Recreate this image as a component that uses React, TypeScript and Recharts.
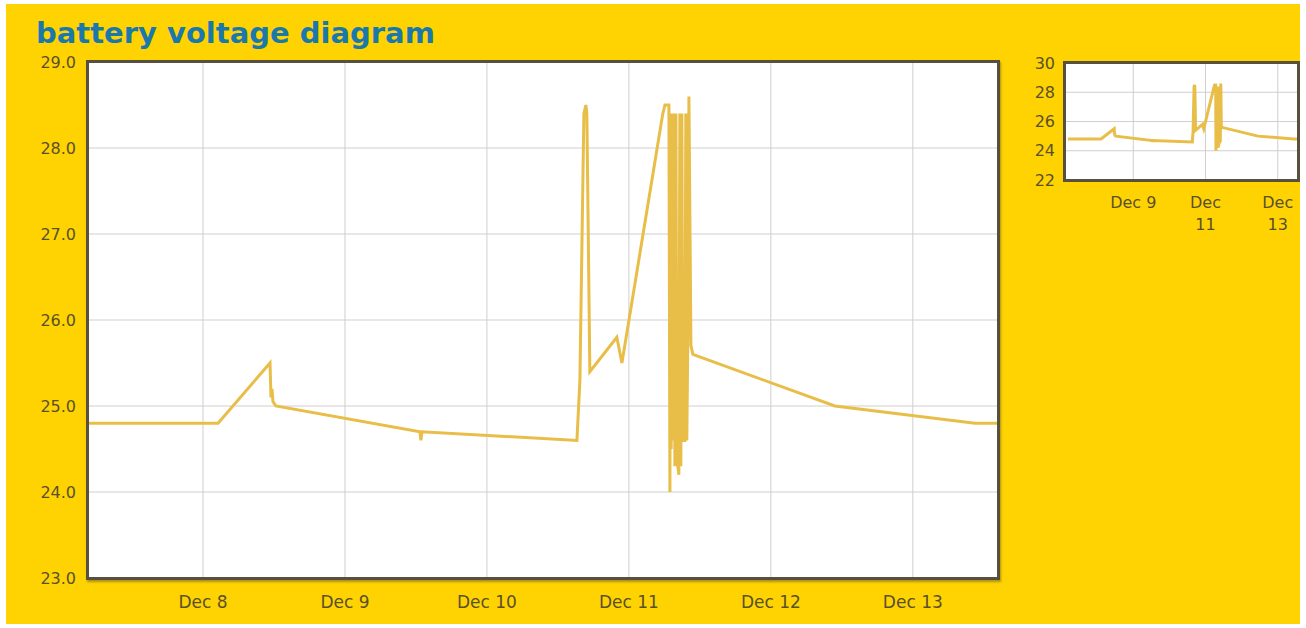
import { LineChart, Line, XAxis, YAxis, CartesianGrid } from 'recharts';

// time in days of December (e.g. 8.5 = Dec 8, 12:00), voltage in V
const times = [
  7.19, 8.106, 8.472, 8.479, 8.486, 8.493, 8.514, 9.528, 9.535, 9.542,
  10.634, 10.655, 10.683, 10.697, 10.704, 10.725, 10.915, 10.951,
  11.239, 11.254, 11.282, 11.289, 11.293, 11.298, 11.303, 11.31, 11.317,
  11.324, 11.331, 11.338, 11.352, 11.359, 11.366, 11.373, 11.38,
  11.394, 11.401, 11.408, 11.415, 11.423, 11.437, 11.451,
  12.451, 13.437, 13.599,
];
const volts = [
  24.8, 24.8, 25.5, 25.1, 25.2, 25.05, 25.0, 24.7, 24.6, 24.7,
  24.6, 25.3, 28.4, 28.5, 28.4, 25.4, 25.8, 25.5,
  28.4, 28.5, 28.5, 24.0, 28.4, 24.5, 28.4, 24.6, 28.4,
  24.3, 28.4, 24.4, 24.2, 28.4, 24.3, 28.4, 24.6,
  24.6, 28.4, 24.6, 25.8, 28.6, 25.7, 25.6,
  25.0, 24.8, 24.8,
];

const mainXTicks = [8, 9, 10, 11, 12, 13];
const mainYTicks = [23, 24, 25, 26, 27, 28, 29];
const miniXTicks = [9, 11, 13];
const miniYTicks = [22, 24, 26, 28, 30];

const data = times.map((t, i) => ({ t, v: volts[i] }));

const BG = '#FFD302';
const LINE = '#E8BE48';
const TEXT = '#5a5028';
const GRID = '#cfcfcf';
const FONT = '"DejaVu Sans", Verdana, sans-serif';

function MiniTick(props: any) {
  const { x, y, payload } = props;
  const day = payload.value;
  const lines = day >= 10 ? ['Dec', String(day)] : [`Dec ${day}`];
  return (
    <text x={x} y={y} textAnchor="middle" fill={TEXT} fontSize={16} fontFamily={FONT}>
      {lines.map((l, i) => (
        <tspan key={i} x={x} dy={i === 0 ? '0.71em' : 22}>
          {l}
        </tspan>
      ))}
    </text>
  );
}

export default function App() {
  return (
    <div style={{ position: 'relative', width: 1306, height: 628, background: '#fff', fontFamily: FONT }}>
      <style>{'body{margin:0}'}</style>
      <div style={{ position: 'absolute', left: 6, top: 4, width: 1294, height: 620, background: BG }} />
      <div
        style={{
          position: 'absolute',
          left: 36,
          top: 17,
          fontSize: 29,
          lineHeight: '32px',
          fontWeight: 'bold',
          color: '#1b78ab',
          fontFamily: FONT,
        }}
      >
        battery voltage diagram
      </div>

      <div style={{ position: 'absolute', left: 0, top: 0 }}>
        <LineChart width={1000} height={628} data={data} margin={{ top: 62, right: 2, left: 0, bottom: 0 }}>
          <CartesianGrid stroke={GRID} fill="#fff" vertical horizontal />
          <XAxis
            dataKey="t"
            type="number"
            domain={[7.19, 13.6]}
            ticks={mainXTicks}
            tickFormatter={(v: number) => `Dec ${v}`}
            axisLine={false}
            tickLine={false}
            tickSize={0}
            tickMargin={18}
            height={50}
            tick={{ fill: TEXT, fontSize: 17, fontFamily: FONT }}
            allowDataOverflow
          />
          <YAxis
            type="number"
            domain={[23, 29]}
            ticks={mainYTicks}
            tickFormatter={(v: number) => v.toFixed(1)}
            axisLine={false}
            tickLine={false}
            tickSize={0}
            tickMargin={12}
            width={88}
            tick={{ fill: TEXT, fontSize: 16, fontFamily: FONT }}
          />
          <Line
            type="linear"
            dataKey="v"
            stroke={LINE}
            strokeWidth={3}
            dot={false}
            isAnimationActive={false}
          />
        </LineChart>
      </div>
      <div
        style={{
          position: 'absolute',
          left: 86,
          top: 60,
          width: 914,
          height: 520,
          boxSizing: 'border-box',
          border: '3px solid #56503c',
          boxShadow: '1px 2px 2px rgba(90,80,40,0.5)',
          pointerEvents: 'none',
        }}
      />

      <div style={{ position: 'absolute', left: 1010, top: 0 }}>
        <LineChart width={290} height={250} data={data} margin={{ top: 63, right: 2, left: 0, bottom: 0 }}>
          <CartesianGrid stroke={GRID} fill="#fff" />
          <XAxis
            dataKey="t"
            type="number"
            domain={[7.11, 13.56]}
            ticks={miniXTicks}
            axisLine={false}
            tickLine={false}
            tickSize={0}
            tickMargin={17}
            height={70}
            tick={<MiniTick />}
            allowDataOverflow
          />
          <YAxis
            type="number"
            domain={[22, 30]}
            ticks={miniYTicks}
            axisLine={false}
            tickLine={false}
            tickSize={0}
            tickMargin={10}
            width={55}
            tick={{ fill: TEXT, fontSize: 16, fontFamily: FONT }}
          />
          <Line
            type="linear"
            dataKey="v"
            stroke={LINE}
            strokeWidth={3}
            dot={false}
            isAnimationActive={false}
          />
        </LineChart>
      </div>
      <div
        style={{
          position: 'absolute',
          left: 1063,
          top: 61,
          width: 237,
          height: 121,
          boxSizing: 'border-box',
          border: '3px solid #56503c',
          pointerEvents: 'none',
        }}
      />
    </div>
  );
}
